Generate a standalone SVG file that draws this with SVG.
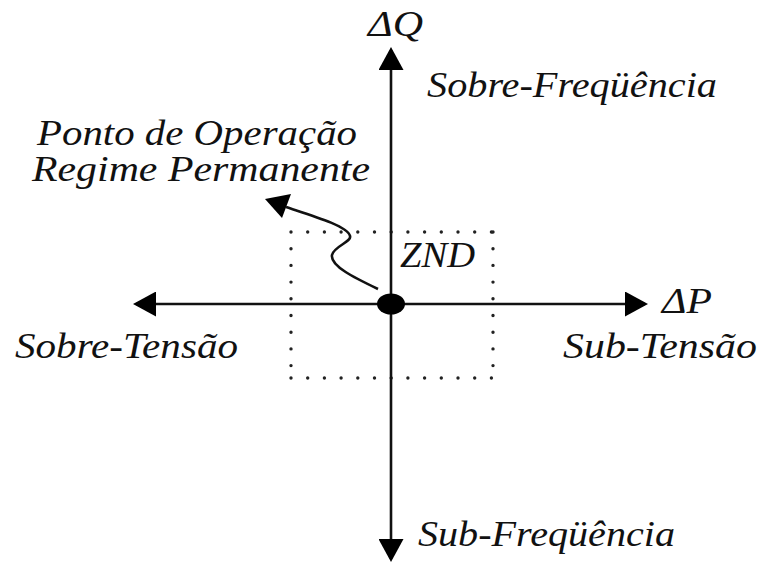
<svg xmlns="http://www.w3.org/2000/svg" width="760" height="566" viewBox="0 0 760 566">
<style>
.ax{stroke:#111;stroke-width:2.6;fill:none}
.dot{stroke:#222;stroke-width:3.4;stroke-linecap:round;stroke-dasharray:0 16.7;fill:none}
</style>
<defs>
<marker id="ah" viewBox="0 0 23 25" refX="20" refY="12.5" markerWidth="23" markerHeight="25" markerUnits="userSpaceOnUse" orient="auto-start-reverse">
<path d="M0,0 L23,12.5 L0,25 z" fill="#000"/>
</marker>
</defs>
<rect width="760" height="566" fill="#fff"/>
<g font-family="Liberation Serif, serif" font-style="italic" font-size="36" fill="#111">
<g id="znd">
<path class="dot" d="M291,232 H493 M493,232 V378 M291,232 V378 M291,378 H493"/>
<text x="400" y="267" textLength="75" lengthAdjust="spacingAndGlyphs">ZND</text>
</g>
<g id="connectors">
<line class="ax" x1="391" y1="559" x2="391" y2="50" marker-start="url(#ah)" marker-end="url(#ah)"/>
<line class="ax" x1="136" y1="304" x2="645" y2="304" marker-start="url(#ah)" marker-end="url(#ah)"/>
<path d="M378,289 C355,278 330,266 332,255 C334,246 352,242 350,236 C348,226 310,215 286,207" stroke="#111" stroke-width="2.6" fill="none"/>
<polygon points="265,199 291,194 282,218" fill="#000"/>
</g>
<g id="ponto">
<ellipse cx="391" cy="304" rx="14" ry="10.5" fill="#000"/>
<text x="37" y="145" textLength="320" lengthAdjust="spacingAndGlyphs">Ponto de Operação</text>
<text x="32" y="181" textLength="338" lengthAdjust="spacingAndGlyphs">Regime Permanente</text>
</g>
<g id="labels">
<text x="368" y="36" textLength="55" lengthAdjust="spacingAndGlyphs">ΔQ</text>
<text x="427" y="97" textLength="290" lengthAdjust="spacingAndGlyphs">Sobre-Freqüência</text>
<text x="662" y="313" textLength="50" lengthAdjust="spacingAndGlyphs">ΔP</text>
<text x="15" y="358" textLength="223" lengthAdjust="spacingAndGlyphs">Sobre-Tensão</text>
<text x="563" y="358" textLength="194" lengthAdjust="spacingAndGlyphs">Sub-Tensão</text>
<text x="418" y="546" textLength="257" lengthAdjust="spacingAndGlyphs">Sub-Freqüência</text>
</g>
</g>
</svg>
